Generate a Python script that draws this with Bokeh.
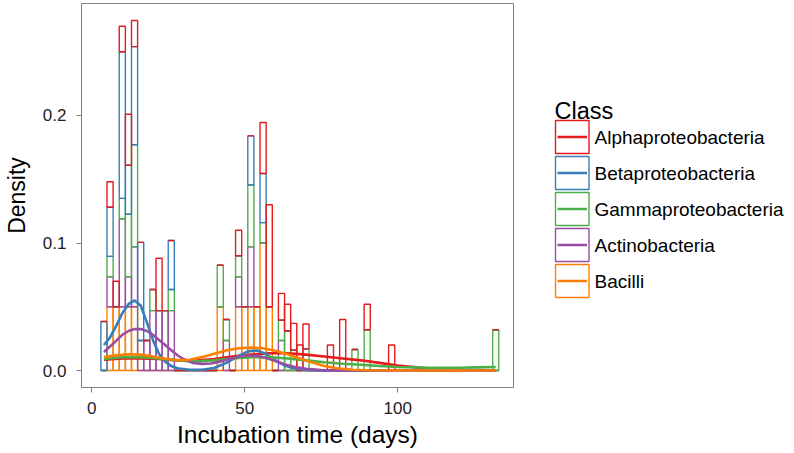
from bokeh.plotting import figure
from bokeh.layouts import row
from bokeh.models import ColumnDataSource, FixedTicker, PrintfTickFormatter, Range1d
from bokeh.core.properties import value
from bokeh.embed import file_html
from bokeh.resources import INLINE

FONT = "Liberation Sans"

classes = ["Alphaproteobacteria", "Betaproteobacteria", "Gammaproteobacteria",
           "Actinobacteria", "Bacilli"]
colors = ["#E41A1C", "#377EB8", "#4DAF4A", "#984EA3", "#FF7F00"]

# histogram bins (binwidth 2 days), centres 4..132
bin_centers = list(range(4, 134, 2))

# per-class density per bin
alpha_hist = [0, .02, .02, .02, .04, .0205, 0, 0, 0, .041,
              0, 0, 0, 0, 0, 0, 0, 0, 0, 0,
              0, 0, .02, 0, 0, 0, .04, .08, 0, .021,
              .021, .021, .02, .0195, 0, 0, 0, .02, 0, .04,
              0, 0, 0, .02, 0, 0, 0, .02, 0, 0,
              0, 0, 0, 0, 0, 0, 0, 0, 0, 0,
              0, 0, 0, 0, 0]
beta_hist = [.0385, .0385, 0, .115, .0385, .077, .077, 0, 0, 0,
             0, .0385, 0, 0, 0, 0, 0, 0, 0, 0,
             0, 0, 0, 0, .0385, 0, .0385, 0, 0, 0,
             0, 0, 0, 0, 0, 0, 0, 0, 0, 0,
             0, 0, 0, 0, 0, 0, 0, 0, 0, 0,
             0, 0, 0, 0, 0, 0, 0, 0, 0, 0,
             0, 0, 0, 0, 0]
gamma_hist = [0, .016, 0, .016, .049, .08, 0, 0, .0165, 0,
              0, .0165, 0, 0, 0, 0, 0, 0, 0, .0325,
              .0165, 0, .0165, 0, .0485, 0, .016, 0, 0, .016,
              .031, .016, 0, .017, 0, 0, 0, 0, 0, 0,
              0, .0165, 0, .032, 0, 0, 0, 0, 0, 0,
              0, 0, 0, 0, 0, 0, 0, 0, 0, 0,
              0, 0, 0, 0, .032]
actino_hist = [0, .0235, 0, .069, .0235, .047, .0235, .0235, .047, .047,
               .047, .047, 0, 0, 0, 0, 0, 0, 0, 0,
               .0235, 0, .0235, 0, .047, 0, 0, 0, 0, .0235,
               0, 0, 0, 0, 0, 0, 0, 0, 0, 0,
               0, 0, 0, 0, 0, 0, 0, 0, 0, 0,
               0, 0, 0, 0, 0, 0, 0, 0, 0, 0,
               0, 0, 0, 0, 0]
bacilli_hist = [0, .05, .05, .05, .05, .05, 0, 0, 0, 0,
                0, 0, 0, 0, 0, 0, 0, 0, 0, .05,
                0, 0, .05, .05, .05, .05, .1, .05, 0, 0,
                0, 0, 0, 0, 0, 0, 0, 0, 0, 0,
                0, 0, 0, 0, 0, 0, 0, 0, 0, 0,
                0, 0, 0, 0, 0, 0, 0, 0, 0, 0,
                0, 0, 0, 0, 0]

# density curves
alpha_kde_x = [4, 10, 16, 22, 28, 34, 40, 46, 52, 58, 64, 70, 76, 82, 88, 94, 100, 106, 112, 120, 132]
alpha_kde_y = [0.0085, 0.0095, 0.0095, 0.009, 0.008, 0.0078, 0.009, 0.011, 0.0125, 0.0135, 0.0135,
               0.0125, 0.011, 0.0095, 0.008, 0.006, 0.004, 0.0025, 0.0012, 0.0004, 0.0001]
beta_kde_x = [4, 6, 8, 10, 12, 14, 16, 18, 20, 22, 24, 26, 28, 32, 36, 40, 44, 48, 51, 54, 57,
              60, 63, 66, 70, 76, 90, 110, 132]
beta_kde_y = [0.020, 0.026, 0.035, 0.045, 0.052, 0.055, 0.051, 0.038, 0.024, 0.013, 0.007, 0.0035,
              0.0018, 0.0006, 0.0006, 0.002, 0.006, 0.0115, 0.015, 0.0157, 0.013, 0.008, 0.004,
              0.0018, 0.0004, 0.0001, 0, 0, 0]
gamma_kde_x = [4, 10, 16, 22, 28, 34, 40, 46, 52, 58, 64, 70, 76, 82, 88, 94, 100, 110, 120, 126, 132]
gamma_kde_y = [0.009, 0.0105, 0.0105, 0.0095, 0.008, 0.0072, 0.008, 0.0095, 0.0105, 0.0105, 0.0095,
               0.008, 0.0065, 0.0053, 0.0045, 0.0035, 0.0028, 0.0022, 0.0022, 0.0025, 0.0028]
actino_kde_x = [4, 7, 10, 12, 14, 16, 18, 20, 22, 24, 26, 28, 30, 33, 36, 39, 42, 45, 48, 51, 54,
                57, 60, 63, 66, 70, 75, 80, 90, 132]
actino_kde_y = [0.0145, 0.021, 0.028, 0.031, 0.0326, 0.0325, 0.031, 0.028, 0.024, 0.020, 0.016,
                0.012, 0.009, 0.006, 0.0052, 0.0055, 0.007, 0.009, 0.0108, 0.0118, 0.0115, 0.0098,
                0.0075, 0.005, 0.003, 0.0013, 0.0004, 0.0001, 0, 0]
bacilli_kde_x = [4, 8, 12, 16, 20, 24, 28, 32, 36, 40, 44, 48, 52, 56, 60, 64, 68, 72, 76, 80, 85,
                 90, 100, 132]
bacilli_kde_y = [0.0105, 0.012, 0.0128, 0.0125, 0.011, 0.0093, 0.0082, 0.0085, 0.0105, 0.0132,
                 0.0158, 0.0175, 0.018, 0.0175, 0.0155, 0.0128, 0.0095, 0.0063, 0.0036, 0.0018,
                 0.0006, 0.0002, 0, 0]

x_ticks = [0, 50, 100]
y_ticks = [0.0, 0.1, 0.2]

hists = [alpha_hist, beta_hist, gamma_hist, actino_hist, bacilli_hist]
kdes = [(alpha_kde_x, alpha_kde_y), (beta_kde_x, beta_kde_y), (gamma_kde_x, gamma_kde_y),
        (actino_kde_x, actino_kde_y), (bacilli_kde_x, bacilli_kde_y)]

data = {"x": bin_centers}
for name, h in zip(classes, hists):
    data[name] = h
src = ColumnDataSource(data)

p = figure(width=514, height=453, output_backend="svg", toolbar_location=None,
           x_range=Range1d(-3.33, 137.8), y_range=Range1d(-0.0133, 0.2878),
           min_border_left=77, min_border_right=1, min_border_top=3, min_border_bottom=66)
p.background_fill_color = "white"
p.border_fill_color = "white"
p.outline_line_color = "#7f7f7f"
p.outline_line_width = 1
p.xgrid.visible = False
p.ygrid.visible = False

# stacked histogram: bottom Bacilli ... top Alphaproteobacteria
stack_order = classes[::-1]
stack_colors = colors[::-1]
p.vbar_stack(stack_order, x="x", width=2, source=src, fill_alpha=0,
             line_color=stack_colors, line_width=1.4)

for (kx, ky), c in zip(kdes, colors):
    p.line(kx, ky, line_color=c, line_width=2.6)

for ax in (p.xaxis[0], p.yaxis[0]):
    ax.axis_line_color = None
    ax.major_tick_in = 0
    ax.major_tick_out = 5
    ax.major_tick_line_color = "#7f7f7f"
    ax.minor_tick_line_color = None
    ax.major_label_text_font = FONT
    ax.major_label_text_font_size = "17px"
    ax.major_label_text_color = "#222222"
    ax.axis_label_text_font = FONT
    ax.axis_label_text_font_style = "normal"
    ax.axis_label_text_color = "black"

p.xaxis.axis_label_text_font_size = "24.5px"
p.yaxis.axis_label_text_font_size = "23px"
p.xaxis.ticker = FixedTicker(ticks=x_ticks)
p.yaxis.ticker = FixedTicker(ticks=y_ticks)
p.yaxis.formatter = PrintfTickFormatter(format="%.1f")
p.xaxis.axis_label = "Incubation time (days)"
p.yaxis.axis_label = "Density"
p.xaxis.major_label_standoff = 9
p.yaxis.major_label_standoff = 10
p.xaxis.axis_label_standoff = 4
p.yaxis.axis_label_standoff = 10

# legend panel (its frame is aligned with the main frame: page rows 3..387)
lg = figure(width=280, height=453, output_backend="svg", toolbar_location=None,
            x_range=Range1d(0, 280), y_range=Range1d(387, 3),
            x_axis_location=None, y_axis_location=None,
            min_border_left=0, min_border_right=0, min_border_top=3, min_border_bottom=66)
lg.grid.visible = False
lg.outline_line_color = None
lg.background_fill_color = "white"
lg.border_fill_color = "white"

n = len(classes)
row_top = [120 + 36 * i for i in range(n)]
lg.quad(left=[41] * n, right=[74.5] * n, top=row_top, bottom=[t + 33 for t in row_top],
        fill_alpha=0, line_color=colors, line_width=1.4)
lg.segment(x0=[43] * n, x1=[72.5] * n, y0=[t + 16.5 for t in row_top],
           y1=[t + 16.5 for t in row_top], line_color=colors, line_width=2.6)
lg.text(x=[80] * n, y=[t + 17 for t in row_top], text=classes, text_font=value(FONT),
        text_font_size=value("19px"), text_baseline="middle", text_color="black")
lg.text(x=[40], y=[110], text=["Class"], text_font=value(FONT),
        text_font_size=value("23.5px"), text_baseline="alphabetic", text_color="black")

layout = row(p, lg)
open("out.html", "w").write(file_html(layout, INLINE))
